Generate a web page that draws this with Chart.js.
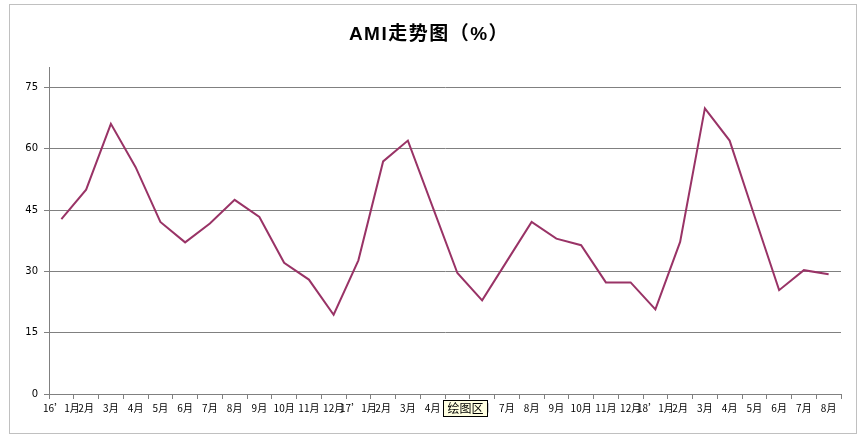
<!DOCTYPE html>
<html>
<head>
<meta charset="utf-8">
<script src="https://cdn.jsdelivr.net/npm/chart.js@4"></script>
<style>
  html, body { margin: 0; padding: 0; background: #ffffff; }
  #wrap { width: 862px; height: 439px; }
</style>
</head>
<body>
<div id="wrap"><canvas id="c" width="862" height="439"></canvas></div>
<script>
const categories = [
  "16’1月","2月","3月","4月","5月","6月","7月","8月","9月","10月","11月","12月",
  "17’1月","2月","3月","4月","5月","6月","7月","8月","9月","10月","11月","12月",
  "18’1月","2月","3月","4月","5月","6月","7月","8月"
];
const amiValues = [
  42.8, 50.0, 66.1, 55.5, 42.1, 37.1, 41.7, 47.5, 43.3, 32.1, 28.0, 19.4,
  32.7, 56.9, 62.0, 45.8, 29.6, 22.9, 32.5, 42.1, 38.0, 36.4, 27.3, 27.3,
  20.7, 37.2, 69.9, 62.0, 43.6, 25.4, 30.3, 29.3
];
const yTickValues = [0, 15, 30, 45, 60, 75];
const chartTitle = "AMI走势图（%）";
const hoverNote = "绘图区";

const framePlugin = {
  id: 'frame',
  beforeDraw(chart) {
    const ctx = chart.ctx;
    ctx.save();
    ctx.fillStyle = '#ffffff';
    ctx.fillRect(0, 0, chart.width, chart.height);
    ctx.strokeStyle = '#c0c0c0';
    ctx.lineWidth = 1;
    ctx.strokeRect(9.5, 4.5, 847, 429);
    ctx.fillStyle = '#000000';
    ctx.font = 'bold 19px "Liberation Sans", "Noto Sans CJK SC", sans-serif';
    if ('letterSpacing' in ctx) ctx.letterSpacing = '1.5px';
    ctx.textAlign = 'center';
    ctx.textBaseline = 'middle';
    ctx.fillText(chartTitle, 429, 35);
    ctx.restore();
  },
  afterDraw(chart) {
    const ctx = chart.ctx;
    ctx.save();
    ctx.fillStyle = '#ffffe1';
    ctx.fillRect(443.5, 400.5, 44, 16);
    ctx.strokeStyle = '#000000';
    ctx.lineWidth = 1;
    ctx.strokeRect(443.5, 400.5, 44, 16);
    ctx.fillStyle = '#000000';
    ctx.font = '12px "Noto Sans CJK SC", sans-serif';
    ctx.textAlign = 'center';
    ctx.textBaseline = 'middle';
    ctx.fillText(hoverNote, 465.5, 408.5);
    ctx.restore();
  }
};

new Chart(document.getElementById('c'), {
  type: 'line',
  data: {
    labels: categories,
    datasets: [{
      label: 'AMI',
      data: amiValues,
      borderColor: '#993366',
      backgroundColor: '#993366',
      borderWidth: 2,
      pointRadius: 0,
      tension: 0,
      fill: false
    }]
  },
  options: {
    responsive: false,
    animation: false,
    devicePixelRatio: 1,
    layout: { padding: { top: 67, right: 21, left: 0, bottom: 0 } },
    plugins: {
      legend: { display: false },
      title: { display: false },
      tooltip: { enabled: false }
    },
    events: [],
    scales: {
      x: {
        type: 'category',
        offset: true,
        grid: { offset: true, drawOnChartArea: false, drawTicks: true, tickLength: 5, color: '#808080' },
        border: { color: '#808080', width: 1 },
        ticks: {
          autoSkip: false, maxRotation: 0, minRotation: 0,
          color: '#000000', padding: 3,
          font: { size: 10, family: '"Noto Sans CJK SC", sans-serif' }
        },
        afterFit(scale) { scale.height = 45; }
      },
      y: {
        min: 0, max: 80,
        grid: { color: '#808080', tickLength: 5, drawTicks: true },
        border: { color: '#808080', width: 1 },
        ticks: {
          stepSize: 15, color: '#000000', padding: 6,
          font: { size: 10, family: '"DejaVu Sans", sans-serif' }
        },
        afterBuildTicks(scale) {
          scale.ticks = yTickValues.map(v => ({ value: v }));
        },
        afterFit(scale) { scale.width = 49; }
      }
    }
  },
  plugins: [framePlugin]
});
</script>
</body>
</html>
